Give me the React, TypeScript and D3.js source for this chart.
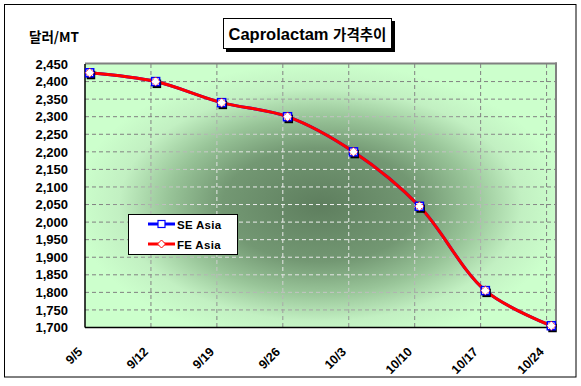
import React from "react";
import * as d3 from "d3";

const dates = ["9/5", "9/12", "9/19", "9/26", "10/3", "10/10", "10/17", "10/24"];
const seAsia = [2425, 2400, 2340, 2300, 2200, 2045, 1805, 1705];
const feAsia = [2425, 2400, 2340, 2300, 2200, 2045, 1805, 1705];
const yTickValues = [1700, 1750, 1800, 1850, 1900, 1950, 2000, 2050, 2100, 2150, 2200, 2250, 2300, 2350, 2400, 2450];
const titleLatin = "Caprolactam ";
const titleKorean = "가격추이";
const unitLabel = "달러/MT";
const seriesNames = ["SE Asia", "FE Asia"];

const W = 581;
const H = 386;
const plot = { left: 85, right: 556, top: 64, bottom: 327.5 };
const DAYS_PER_STEP = 7;
const TOTAL_DAYS = 50;

export default function App() {
  const x = d3.scaleLinear().domain([0, TOTAL_DAYS]).range([plot.left, plot.right]);
  const y = d3.scaleLinear().domain([1700, 2450]).range([plot.bottom, plot.top]);
  const fmt = d3.format(",");
  const px = (i: number) => x(i * DAYS_PER_STEP + 0.5);
  const line = d3
    .line<number>()
    .x((_, i) => px(i))
    .y((d) => y(d))
    .curve(d3.curveCatmullRom.alpha(0.5));

  const cx = (plot.left + plot.right) / 2;
  const cy = 205;
  const rx = (plot.right - plot.left) / 2 + 10;
  const ry = (plot.bottom - plot.top) / 2 + 10;
  const gt = `translate(${cx},${cy}) scale(${rx},${ry})`;
  const font = "'Liberation Sans', Arial, 'Noto Sans CJK KR', sans-serif";
  const kfont = "'Noto Sans CJK KR', 'Liberation Sans', sans-serif";

  const tickDays = dates.map((_, i) => i * DAYS_PER_STEP);

  return (
    <svg width={W} height={H} style={{ position: "absolute", left: 0, top: 0 }} fontFamily={font}>
      <defs>
        <radialGradient id="bg" gradientUnits="userSpaceOnUse" cx={0} cy={0} r={1} gradientTransform={gt}>
          <stop offset="0" stopColor="#5e7e5e" />
          <stop offset="0.4" stopColor="#739873" />
          <stop offset="0.62" stopColor="#98c498" />
          <stop offset="0.82" stopColor="#c2f0c2" />
          <stop offset="1" stopColor="#ccffcc" />
        </radialGradient>
        <radialGradient id="grid" gradientUnits="userSpaceOnUse" cx={0} cy={0} r={1} gradientTransform={gt}>
          <stop offset="0" stopColor="#f4f4f4" />
          <stop offset="0.5" stopColor="#e6e6e6" />
          <stop offset="0.72" stopColor="#a8a8a8" />
          <stop offset="0.9" stopColor="#808080" />
          <stop offset="1" stopColor="#808080" />
        </radialGradient>
      </defs>
      <rect x={0} y={0} width={W} height={H} fill="#ffffff" />
      <rect x={4.5} y={4.5} width={571.5} height={372.5} fill="#ffffff" stroke="#000" strokeWidth={1} />

      {/* Title */}
      <rect x={226} y={21} width={169} height={31} fill="#000" />
      <rect x={223.5} y={18.5} width={168} height={30} fill="#fff" stroke="#000" strokeWidth={1} />
      <text x={307.5} y={40} textAnchor="middle" fontWeight="bold" fontSize={16.5}>
        <tspan>{titleLatin}</tspan>
        <tspan fontFamily={kfont} fontSize={14.5}>{titleKorean}</tspan>
      </text>

      <text x={29} y={42} fontWeight="bold" fontSize={13.5} fontFamily={kfont}>{unitLabel}</text>

      {/* Plot area */}
      <rect x={plot.left} y={plot.top} width={plot.right - plot.left} height={plot.bottom - plot.top} fill="url(#bg)" />
      {yTickValues.slice(1, -1).map((v) => (
        <line key={v} x1={plot.left} x2={plot.right} y1={y(v)} y2={y(v)} stroke="url(#grid)" strokeWidth={1} strokeDasharray="4,3" />
      ))}
      {tickDays.slice(1).map((d) => (
        <line key={d} x1={x(d)} x2={x(d)} y1={plot.top} y2={plot.bottom} stroke="url(#grid)" strokeWidth={1} strokeDasharray="4,3" />
      ))}
      <line x1={plot.left} x2={plot.right + 1} y1={plot.top - 0.5} y2={plot.top - 0.5} stroke="#808080" strokeWidth={2} />
      <line x1={plot.right} x2={plot.right} y1={plot.top - 1.5} y2={plot.bottom} stroke="#808080" strokeWidth={2} />
      <line x1={plot.left} x2={plot.left} y1={plot.top} y2={plot.bottom} stroke="#000" strokeWidth={1.5} />
      <line x1={plot.left} x2={plot.right} y1={plot.bottom} y2={plot.bottom} stroke="#000" strokeWidth={1.5} />

      {/* Y labels */}
      {yTickValues.map((v) => (
        <text key={v} x={68} y={y(v)} dy="0.36em" textAnchor="end" fontWeight="bold" fontSize={13}>
          {fmt(v)}
        </text>
      ))}

      {/* X labels */}
      {dates.map((d, i) => (
        <text
          key={d}
          transform={`translate(${x(tickDays[i]) - 5},${plot.bottom + 22}) rotate(-45)`}
          textAnchor="end"
          dy="0.35em"
          fontWeight="bold"
          fontSize={12.5}
        >
          {d}
        </text>
      ))}

      {/* Series */}
      <path d={line(seAsia) || ""} fill="none" stroke="#0000ff" strokeWidth={3} />
      <path d={line(feAsia) || ""} fill="none" stroke="#ff0000" strokeWidth={3} />
      {seAsia.map((v, i) => (
        <rect key={"sh" + i} x={px(i) - 3} y={y(v) - 2} width={8.5} height={8.5} fill="#000" />
      ))}
      {seAsia.map((v, i) => (
        <rect key={"se" + i} x={px(i) - 4} y={y(v) - 4} width={8} height={8} fill="#fff" stroke="#0000ff" strokeWidth={1.5} />
      ))}
      {feAsia.map((v, i) => (
        <path
          key={"fe" + i}
          d={`M${px(i)},${y(v) - 4.5}L${px(i) + 4.5},${y(v)}L${px(i)},${y(v) + 4.5}L${px(i) - 4.5},${y(v)}Z`}
          fill="#fff"
          stroke="#ff0000"
          strokeWidth={1}
          strokeDasharray="1.5,1.5"
        />
      ))}

      {/* Legend */}
      <rect x={128.5} y={214.5} width={109} height={40} fill="#fff" stroke="#000" strokeWidth={1} />
      <line x1={148} x2={175} y1={224} y2={224} stroke="#0000ff" strokeWidth={3} />
      <rect x={158} y={220.5} width={7} height={7} fill="#fff" stroke="#0000ff" strokeWidth={1.2} />
      <text x={177} y={228.5} fontWeight="bold" fontSize={11.5} letterSpacing={0.3}>{seriesNames[0]}</text>
      <line x1={148} x2={175} y1={244} y2={244} stroke="#ff0000" strokeWidth={3} />
      <path d="M161.5,240L165.5,244L161.5,248L157.5,244Z" fill="#fff" stroke="#ff0000" strokeWidth={1} />
      <text x={177} y={248.5} fontWeight="bold" fontSize={11.5} letterSpacing={0.3}>{seriesNames[1]}</text>
    </svg>
  );
}
